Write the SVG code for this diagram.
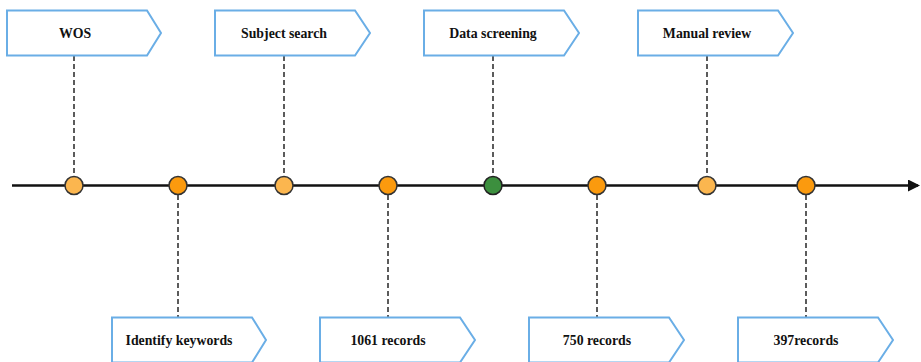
<svg xmlns="http://www.w3.org/2000/svg" width="921" height="362" viewBox="0 0 921 362">
<style>
.box{fill:#fff;stroke:#6aaee6;stroke-width:2}
.lbl{font-family:"Liberation Serif","Times New Roman",serif;font-weight:bold;font-size:13.8px;fill:#111;text-anchor:middle;dominant-baseline:central}
.dash{stroke:#333;stroke-width:1.6;stroke-dasharray:5 3;fill:none}
.c1{fill:#fbb64f;stroke:#333;stroke-width:1.5}
.c2{fill:#fb9a0e;stroke:#333;stroke-width:1.5}
.c3{fill:#3c8f3e;stroke:#222;stroke-width:1.5}
</style>
<defs>
<marker id="arr" markerWidth="12" markerHeight="12" refX="10" refY="6" orient="auto" markerUnits="userSpaceOnUse">
<path d="M0,0 L12,6 L0,12 Z" fill="#111"/>
</marker>
</defs>
<g id="connectors">
<line x1="12" y1="185.5" x2="918" y2="185.5" stroke="#111" stroke-width="2.4" marker-end="url(#arr)"/>
<line class="dash" x1="74" y1="56" x2="74" y2="176"/>
<line class="dash" x1="284" y1="56" x2="284" y2="176"/>
<line class="dash" x1="493" y1="56" x2="493" y2="176"/>
<line class="dash" x1="707" y1="56" x2="707" y2="176"/>
<line class="dash" x1="178" y1="195" x2="178" y2="317"/>
<line class="dash" x1="388" y1="195" x2="388" y2="317"/>
<line class="dash" x1="597" y1="195" x2="597" y2="317"/>
<line class="dash" x1="806" y1="195" x2="806" y2="317"/>
</g>
<g id="n-wos"><path class="box" d="M7,10.5 H147 L161,33 L147,55.5 H7 Z"/><text class="lbl" x="75" y="33">WOS</text></g>
<g id="n-subject"><path class="box" d="M215,10.5 H355 L370,33 L355,55.5 H215 Z"/><text class="lbl" x="284" y="33">Subject search</text></g>
<g id="n-screening"><path class="box" d="M424,10.5 H564 L579,33 L564,55.5 H424 Z"/><text class="lbl" x="493" y="33">Data screening</text></g>
<g id="n-manual"><path class="box" d="M638,10.5 H778 L793,33 L778,55.5 H638 Z"/><text class="lbl" x="707" y="33">Manual review</text></g>
<g id="n-identify"><path class="box" d="M112,317.5 H252 L266,340 L252,362.5 H112 Z"/><text class="lbl" x="179" y="340">Identify keywords</text></g>
<g id="n-1061"><path class="box" d="M320,317.5 H460 L475,340 L460,362.5 H320 Z"/><text class="lbl" x="388" y="340">1061 records</text></g>
<g id="n-750"><path class="box" d="M529,317.5 H669 L684,340 L669,362.5 H529 Z"/><text class="lbl" x="597" y="340">750 records</text></g>
<g id="n-397"><path class="box" d="M738,317.5 H878 L893,340 L878,362.5 H738 Z"/><text class="lbl" x="806" y="340">397records</text></g>
<g id="points">
<circle class="c1" cx="74" cy="185.5" r="9"/>
<circle class="c2" cx="178" cy="185.5" r="9"/>
<circle class="c1" cx="284" cy="185.5" r="9"/>
<circle class="c2" cx="388" cy="185.5" r="9"/>
<circle class="c3" cx="493" cy="185.5" r="9"/>
<circle class="c2" cx="597" cy="185.5" r="9"/>
<circle class="c1" cx="707" cy="185.5" r="9"/>
<circle class="c2" cx="806" cy="185.5" r="9"/>
</g>
</svg>
